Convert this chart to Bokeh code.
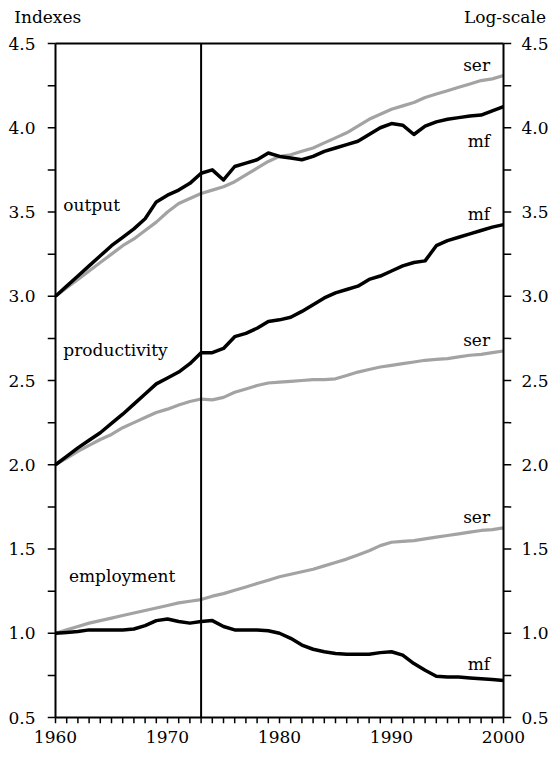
from bokeh.plotting import figure
from bokeh.models import (Range1d, LinearAxis, SingleIntervalTicker, FixedTicker,
                          ColumnDataSource, PrintfTickFormatter, CustomJSTickFormatter)
from bokeh.core.properties import value
from bokeh.embed import file_html
from bokeh.resources import INLINE

years = list(range(1960, 2001))

output_mf = [3.00, 3.06, 3.12, 3.18, 3.24, 3.30, 3.35, 3.40, 3.46, 3.56,
             3.60, 3.63, 3.67, 3.73, 3.75, 3.69, 3.77, 3.79, 3.81, 3.85,
             3.83, 3.82, 3.81, 3.83, 3.86, 3.88, 3.90, 3.92, 3.96, 4.00,
             4.025, 4.015, 3.96, 4.01, 4.035, 4.05, 4.06, 4.07, 4.075, 4.10,
             4.125]
output_ser = [3.00, 3.05, 3.10, 3.15, 3.20, 3.25, 3.30, 3.34, 3.39, 3.44,
              3.50, 3.55, 3.58, 3.61, 3.63, 3.65, 3.68, 3.72, 3.76, 3.80,
              3.83, 3.84, 3.86, 3.88, 3.91, 3.94, 3.97, 4.01, 4.05, 4.08,
              4.11, 4.13, 4.15, 4.18, 4.20, 4.22, 4.24, 4.26, 4.28, 4.29,
              4.31]
productivity_mf = [2.00, 2.05, 2.10, 2.145, 2.19, 2.245, 2.30, 2.36, 2.42, 2.48,
                   2.515, 2.55, 2.60, 2.665, 2.665, 2.69, 2.76, 2.78, 2.81, 2.85,
                   2.86, 2.875, 2.91, 2.95, 2.99, 3.02, 3.04, 3.06, 3.10, 3.12,
                   3.15, 3.18, 3.20, 3.21, 3.30, 3.33, 3.35, 3.37, 3.39, 3.41,
                   3.425]
productivity_ser = [2.00, 2.04, 2.08, 2.115, 2.15, 2.18, 2.22, 2.25, 2.28, 2.31,
                    2.33, 2.355, 2.375, 2.39, 2.385, 2.40, 2.43, 2.45, 2.47, 2.485,
                    2.49, 2.495, 2.50, 2.505, 2.505, 2.51, 2.53, 2.55, 2.565, 2.58,
                    2.59, 2.60, 2.61, 2.62, 2.625, 2.63, 2.64, 2.65, 2.655, 2.665,
                    2.675]
employment_mf = [1.00, 1.005, 1.01, 1.02, 1.02, 1.02, 1.02, 1.025, 1.045, 1.075,
                 1.085, 1.07, 1.06, 1.07, 1.075, 1.04, 1.02, 1.02, 1.02, 1.015,
                 1.00, 0.97, 0.93, 0.905, 0.89, 0.88, 0.875, 0.875, 0.875, 0.885,
                 0.89, 0.87, 0.82, 0.78, 0.745, 0.74, 0.74, 0.735, 0.73, 0.725,
                 0.72]
employment_ser = [1.00, 1.02, 1.04, 1.06, 1.075, 1.09, 1.105, 1.12, 1.135, 1.15,
                  1.165, 1.18, 1.19, 1.20, 1.22, 1.235, 1.255, 1.275, 1.295, 1.315,
                  1.335, 1.35, 1.365, 1.38, 1.40, 1.42, 1.44, 1.465, 1.49, 1.52,
                  1.54, 1.545, 1.55, 1.56, 1.57, 1.58, 1.59, 1.60, 1.61, 1.615,
                  1.625]

break_year = 1973

left_names = ["output", "productivity", "employment"]
left_x = [1960.7, 1960.7, 1961.2]
left_y = [3.54, 2.68, 1.34]

right_names = ["ser", "mf", "mf", "ser", "ser", "mf"]
right_x = [1998.8] * 6
right_y = [4.37, 3.92, 3.49, 2.74, 1.69, 0.82]

# axis limits of the drawn box and tick spacing
X0, X1 = 1960, 2000
Y0, Y1 = 0.5, 4.5
X_MAJOR, X_MINOR = 10, 1
Y_MAJOR, Y_MINOR = 0.5, 0.25

# layout (pixels)
PX_YEAR = 11.2
PX_UNIT = 168.5
PAD_L, PAD_R, PAD_B, PAD_T = 8, 8, 6, 2

FONT = "DejaVu Serif"

x_range = Range1d(X0 - PAD_L / PX_YEAR, X1 + PAD_R / PX_YEAR)
y_range = Range1d(Y0 - PAD_B / PX_UNIT, Y1 + PAD_T / PX_UNIT)

p = figure(frame_width=round((X1 - X0) * PX_YEAR + PAD_L + PAD_R),
           frame_height=round((Y1 - Y0) * PX_UNIT + PAD_B + PAD_T),
           output_backend="svg", toolbar_location=None,
           x_range=x_range, y_range=y_range,
           min_border_left=47, min_border_right=41, min_border_top=41,
           min_border_bottom=34)
p.grid.visible = False
p.background_fill_color = None
p.border_fill_color = None
p.outline_line_color = None

GRAY = "#a3a3a3"
for ser in (output_ser, productivity_ser, employment_ser):
    p.line(years, ser, line_color=GRAY, line_width=3.2)
for mf in (output_mf, productivity_mf, employment_mf):
    p.line(years, mf, line_color="black", line_width=3.5, line_join="round")

# outward tick marks (drawn in the padding strip of the frame)
x_ticks = list(range(X0, X1 + 1, X_MINOR))
n_y = int(round((Y1 - Y0) / Y_MINOR)) + 1
y_ticks = [Y0 + i * Y_MINOR for i in range(n_y)]
TICK_W = 1.5
p.segment(x0=x_ticks, y0=[Y0] * len(x_ticks), x1=x_ticks, y1=[y_range.start] * len(x_ticks),
          line_color="black", line_width=TICK_W)
p.segment(x0=[X0] * n_y, y0=y_ticks, x1=[x_range.start] * n_y, y1=y_ticks,
          line_color="black", line_width=TICK_W)
p.segment(x0=[X1] * n_y, y0=y_ticks, x1=[x_range.end] * n_y, y1=y_ticks,
          line_color="black", line_width=TICK_W)

# box around the plot and the 1973 break line
p.segment(x0=[X0, X1, X0, X0], y0=[Y0, Y0, Y0, Y1],
          x1=[X0, X1, X1, X1], y1=[Y1, Y1, Y0, Y1],
          line_color="black", line_width=2)
p.segment(x0=[break_year], y0=[Y0], x1=[break_year], y1=[Y1], line_color="black", line_width=2)

ls = ColumnDataSource(dict(x=left_x, y=left_y, t=left_names))
p.text(x="x", y="y", text="t", source=ls, text_font=value(FONT), text_font_size="17px",
       text_align="left", text_baseline="alphabetic", text_color="black")
rs = ColumnDataSource(dict(x=right_x, y=right_y, t=right_names))
p.text(x="x", y="y", text="t", source=rs, text_font=value(FONT), text_font_size="17px",
       text_align="right", text_baseline="alphabetic", text_color="black")


def label_axis(ax, standoff):
    """Axis that carries the tick labels (its rule and ticks are the glyphs above)."""
    ax.axis_line_color = None
    ax.major_tick_line_color = None
    ax.minor_tick_line_color = None
    ax.major_tick_in = 0
    ax.major_tick_out = 0
    ax.minor_tick_in = 0
    ax.minor_tick_out = 0
    ax.major_label_text_font = FONT
    ax.major_label_text_font_size = "17px"
    ax.major_label_text_color = "black"
    ax.major_label_standoff = standoff


bottom = p.below[0]
bottom.ticker = SingleIntervalTicker(interval=X_MAJOR)
bottom.bounds = (X0, X1)
label_axis(bottom, 7)

left = p.left[0]
left.ticker = SingleIntervalTicker(interval=Y_MAJOR)
left.formatter = PrintfTickFormatter(format="%.1f")
left.bounds = (Y0, Y1)
label_axis(left, 12)

right = LinearAxis(ticker=SingleIntervalTicker(interval=Y_MAJOR),
                   formatter=PrintfTickFormatter(format="%.1f"), bounds=(Y0, Y1))
label_axis(right, 10)
p.add_layout(right, "right")

# header texts ("Indexes" at the left, "Log-scale" at the right)
top = LinearAxis(ticker=FixedTicker(ticks=[x_range.start + 0.02, 2000.13]),
                 formatter=CustomJSTickFormatter(code="return tick < 1980 ? 'Indexes' : 'Log-scale';"))
label_axis(top, 15)
p.add_layout(top, "above")

open("out.html", "w").write(file_html(p, INLINE))
